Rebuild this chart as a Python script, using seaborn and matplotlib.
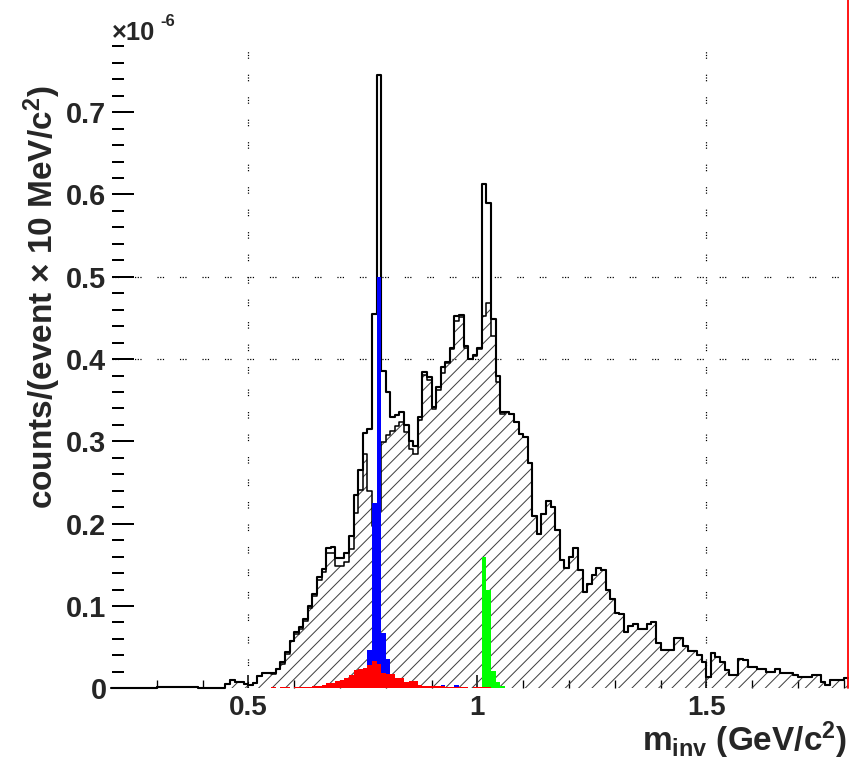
import numpy as np
import matplotlib
matplotlib.use("Agg")
import matplotlib.pyplot as plt
import matplotlib.ticker as mticker
import matplotlib.transforms as mtransforms
import seaborn as sns

sns.set_style("ticks")
plt.rcParams['font.family'] = ['Liberation Sans', 'DejaVu Sans']
plt.rcParams['font.weight'] = 'bold'
plt.rcParams['mathtext.fontset'] = 'custom'
plt.rcParams['mathtext.rm'] = 'Liberation Sans:bold'
plt.rcParams['mathtext.it'] = 'Liberation Sans:bold'
plt.rcParams['mathtext.bf'] = 'Liberation Sans:bold'
plt.rcParams['hatch.color'] = '#404040'
plt.rcParams['hatch.linewidth'] = 0.9

BIN = 0.01  # 10 MeV bins

# total spectrum (outer line), bins from 0.20 GeV to 1.81 GeV, in units of 1e-6
total_start = 0.20
total = [
    0, 0, 0, 0, 0, 0, 0, 0, 0, 0,
    .0012, .0012, .0012, .0012, .0012, .0012, .0012, .0012, .0012, .0004,
    .0004, .0004, .0004, .0004, .0004, .005, .010, .008, .008, .005,
    .004, .006, .015, .019, .019, .019, .024, .032, .044, .058,
    .068, .074, .084, .100, .115, .135, .145, .170, .172, .158,
    .158, .165, .185, .235, .265, .310, .315, .455, .745, .385,
    .360, .330, .332, .336, .320, .300, .294, .330, .384, .378,
    .342, .366, .390, .397, .414, .452, .453, .416, .400, .405,
    .414, .613, .590, .449, .380, .336, .336, .333, .324, .309,
    .305, .274, .209, .188, .212, .227, .220, .192, .156, .146,
    .160, .170, .144, .117, .127, .138, .146, .144, .120, .109,
    .091, .090, .069, .076, .078, .072, .072, .078, .081, .055,
    .047, .047, .047, .061, .061, .051, .045, .045, .040, .032,
    .014, .043, .038, .032, .022, .016, .016, .036, .034, .026,
    .026, .024, .024, .020, .020, .024, .018, .018, .018, .016,
    .014, .014, .014, .016, .016, .008, .004, .010, .010, .010, .012,
]

# hatched continuum, same binning
hatched = [
    0, 0, 0, 0, 0, 0, 0, 0, 0, 0,
    .0012, .0012, .0012, .0012, .0012, .0012, .0012, .0012, .0012, .0004,
    .0004, .0004, .0004, .0004, .0004, .005, .010, .008, .008, .005,
    .004, .006, .015, .019, .019, .017, .024, .030, .042, .058,
    .066, .072, .082, .098, .112, .132, .141, .164, .165, .149,
    .148, .153, .169, .213, .241, .285, .240, .197, .215, .299,
    .308, .313, .319, .323, .312, .291, .285, .326, .381, .375,
    .339, .363, .383, .395, .412, .446, .451, .414, .400, .404,
    .412, .452, .468, .428, .372, .333, .336, .333, .324, .309,
    .305, .274, .209, .188, .212, .227, .220, .192, .156, .146,
    .160, .170, .144, .117, .127, .138, .146, .144, .120, .109,
    .091, .090, .069, .076, .078, .072, .072, .078, .081, .055,
    .047, .047, .047, .061, .061, .051, .045, .045, .040, .032,
    .014, .043, .038, .032, .022, .016, .016, .036, .034, .026,
    .026, .024, .024, .020, .020, .024, .018, .018, .018, .016,
    .014, .014, .014, .016, .016, .008, .004, .010, .010, .010, .012,
]

# omega (blue)
omega_start = 0.76
omega = [.047, .225, .500, .067, .035, 0, 0, 0, 0, 0,
         0, 0, 0, 0, 0, 0, .004, 0, 0, .004]

# phi (green)
phi_start = 1.01
phi = [.159, .120, .021, .008, .003]

# rho (red)
rho_start = 0.55
rho = [.002, 0, .002, .002, 0, .002, .002, .002, .002, .003,
       .003, .004, .006, .007, .009, .010, .012, .016, .022, .024,
       .025, .028, .033, .030, .019, .017, .017, .013, .013, .008,
       .009, .009, .004, .003, .003, .003, .003, .003, .002, .002,
       .002, .002, .002, 0, .001, .002, .002, .002]


def draw_hist(ax, start, values, **kws):
    values = np.asarray(values, dtype=float)
    edges = start + BIN * np.arange(len(values) + 1)
    centers = edges[:-1] + BIN / 2
    sns.histplot(x=centers, weights=values, bins=list(edges), element='step', ax=ax, **kws)
    return edges


W, H = 851, 766
DPI = 80
fig = plt.figure(figsize=(W / DPI, H / DPI), dpi=DPI)
ax = fig.add_axes([112 / W, 77.7 / H, 739 / W, 646.9 / H])

# dotted grid (groups of three dots, like the ROOT canvas)
grid_ls = (0, (1, 1.2, 1, 1.2, 1, 13))
for gx in [0.5, 1.5]:
    ax.axvline(gx, color='black', lw=1.1, ls=grid_ls, zorder=1)
for gy in [0.4, 0.5]:
    ax.axhline(gy, color='black', lw=1.1, ls=grid_ls, zorder=1)

draw_hist(ax, total_start, hatched, fill=True, color='#404040', facecolor='none',
          edgecolor='#404040', hatch='//', linewidth=0, alpha=1, zorder=2)
draw_hist(ax, total_start, hatched, fill=False, color='black', linewidth=1.4, zorder=3)
edges = draw_hist(ax, total_start, total, fill=False, color='black', linewidth=1.9,
                  zorder=4, clip_on=False)
draw_hist(ax, omega_start, omega, fill=True, color='#0000ff', edgecolor='none',
          linewidth=0, alpha=1, zorder=5)
draw_hist(ax, phi_start, phi, fill=True, color='#00ff00', edgecolor='none',
          linewidth=0, alpha=1, zorder=5)
draw_hist(ax, rho_start, rho, fill=True, color='#ff0000', edgecolor='none',
          linewidth=0, alpha=1, zorder=6)

# red vertical line at the upper end of the spectrum
trans = mtransforms.blended_transform_factory(ax.transData, fig.transFigure)
ax.plot([edges[-1], edges[-1]], [77.7 / H, 1.0], color='red', lw=1.6,
        transform=trans, clip_on=False, zorder=7)

ax.set_xlim(0.2024, 1.8159)
ax.set_ylim(0, 0.786)
ax.set_xlabel('')
ax.set_ylabel('')
for s in ax.spines.values():
    s.set_visible(False)

ax.xaxis.set_major_locator(mticker.FixedLocator([0.5, 1.0, 1.5]))
ax.xaxis.set_minor_locator(mticker.MultipleLocator(0.1))
ax.yaxis.set_major_locator(mticker.MultipleLocator(0.1))
ax.yaxis.set_minor_locator(mticker.MultipleLocator(0.02))
fmt = mticker.FuncFormatter(lambda v, p: f'{v:g}')
ax.xaxis.set_major_formatter(fmt)
ax.yaxis.set_major_formatter(fmt)

ax.tick_params(axis='y', which='major', direction='in', length=20, width=1.8,
               pad=5, labelsize=26, color='black')
ax.tick_params(axis='y', which='minor', direction='in', length=11, width=1.8, color='black')
ax.tick_params(axis='x', which='major', direction='in', length=12, width=1.4,
               pad=6, labelsize=25, color='black')
ax.tick_params(axis='x', which='minor', direction='in', length=7, width=1.2, color='black')

fig.text(42 / W, 1 - 86 / H, 'counts/(event × 10 MeV/c$^{2}$)', rotation=90,
         ha='center', va='top', fontsize=30, fontweight='bold')
fig.text(847 / W, 1 - 751 / H, 'm$_{inv}$ (GeV/c$^{2}$)', ha='right', va='baseline',
         fontsize=30, fontweight='bold')
fig.text(112 / W, 1 - 40 / H, '×10', ha='left', va='baseline',
         fontsize=23, fontweight='bold')
fig.text(160 / W, 1 - 26 / H, '-6', ha='left', va='baseline',
         fontsize=15, fontweight='bold')

fig.savefig('out.png', dpi=DPI)
